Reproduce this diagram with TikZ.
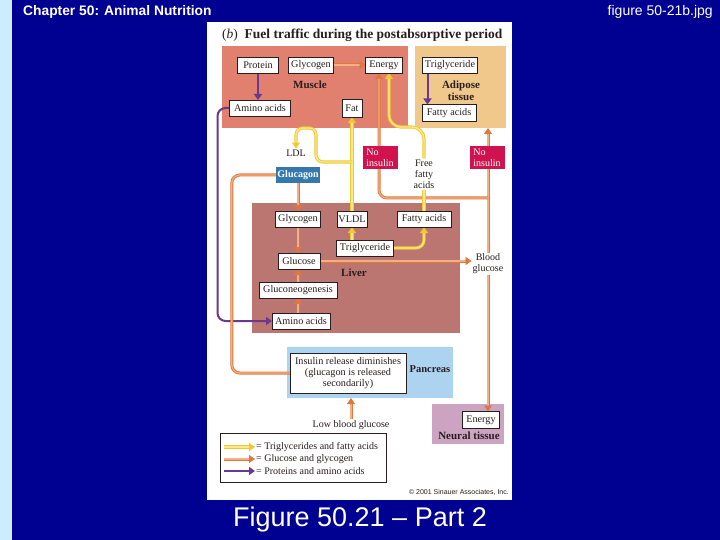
\documentclass[tikz,border=0pt]{standalone}
\usepackage{fontspec}
\setmainfont{Liberation Serif}
\newfontfamily\slidesans{Liberation Sans}
\usepackage{xcolor}
\usepackage{tikz}
\usetikzlibrary{arrows.meta, positioning, calc, backgrounds}
\definecolor{SlideBlue}{RGB}{0, 0, 145}
\definecolor{SlideStrip}{RGB}{204, 236, 255}
\definecolor{FigMuscle}{RGB}{226, 128, 112}
\definecolor{FigAdipose}{RGB}{240, 200, 140}
\definecolor{FigLiver}{RGB}{188, 118, 114}
\definecolor{FigPancreas}{RGB}{172, 212, 240}
\definecolor{FigNeural}{RGB}{204, 164, 194}
\definecolor{FigNoIns}{RGB}{208, 18, 78}
\definecolor{FigGlucagon}{RGB}{52, 120, 172}
\definecolor{FigYellow}{RGB}{240, 200, 48}
\definecolor{FigYellowPale}{RGB}{250, 232, 140}
\definecolor{FigOrange}{RGB}{222, 120, 62}
\definecolor{FigOrangePale}{RGB}{244, 176, 128}
\definecolor{FigPurple}{RGB}{106, 56, 140}
\definecolor{FigText}{RGB}{40, 30, 30}

\pgfdeclarelayer{flow}
\pgfsetlayers{background,flow,main}

\tikzset{
  organ/.style={inner sep=0pt, outer sep=0pt},
  cell/.style={draw=FigText, fill=white, line width=0.5pt, inner sep=1pt, outer sep=0pt,
               minimum height=16pt, text=FigText, font=\fontsize{10.2}{11}\selectfont},
  organlbl/.style={text=FigText, font=\fontsize{11}{12.5}\selectfont\bfseries, align=center, inner sep=0pt},
  flowlbl/.style={text=FigText, font=\fontsize{10}{11}\selectfont, align=center, inner sep=1pt},
  noinsulin/.style={fill=FigNoIns, text=white, font=\fontsize{10}{11}\selectfont, align=left,
                    minimum width=35pt, minimum height=23pt, inner sep=1pt},
  flowtip/.style={-{Triangle[length=6pt, width=8pt]}},
  fatline/.style={draw=FigYellow, double=FigYellowPale, double distance=1.4pt, line width=0.9pt,
                  rounded corners=8pt},
  glcline/.style={draw=FigOrange, double=FigOrangePale, double distance=1.2pt, line width=0.9pt,
                  rounded corners=8pt},
  fatflow/.style={fatline, flowtip},
  glcflow/.style={glcline, flowtip},
  protflow/.style={draw=FigPurple, line width=2pt, rounded corners=8pt, flowtip},
  slidetext/.style={text=white, inner sep=0pt}
}

\begin{document}
\begin{tikzpicture}[x=1pt, y=-1pt]
  \useasboundingbox (0,0) rectangle (720,540);

  \begin{pgfonlayer}{background}
    \fill[SlideBlue] (0,0) rectangle (720,540);
    \fill[SlideStrip] (0,0) rectangle (12,540);
    \fill[white] (207,22) rectangle (512,500);
    % tissue regions
    \node[organ, fill=FigMuscle, minimum width=186pt, minimum height=82pt] (muscle) at (315,87) {};
    \node[organ, fill=FigAdipose, minimum width=91pt, minimum height=82pt] (adipose) at (460.5,87) {};
    \node[organ, fill=FigLiver, minimum width=208pt, minimum height=130pt] (liver) at (356,268) {};
    \node[organ, fill=FigPancreas, minimum width=166pt, minimum height=51pt] (pancreas) at (370,372.5) {};
    \node[organ, fill=FigNeural, minimum width=72pt, minimum height=40pt] (neural) at (468,424) {};
    \node[draw=FigText, fill=white, line width=0.6pt, minimum width=166pt, minimum height=49pt] (legend) at (303,458) {};
  \end{pgfonlayer}

  % slide texts
  \node[slidetext, anchor=west, font=\slidesans\fontsize{13.8}{15}\selectfont\bfseries] (chapter) at (23,12) {Chapter 50: Animal Nutrition};
  \node[slidetext, anchor=east, font=\slidesans\fontsize{14}{16}\selectfont] (filename) at (713,12) {figure 50-21b.jpg};
  \node[slidetext, font=\slidesans\fontsize{27}{30}\selectfont] (caption) at (360,520) {Figure 50.21 – Part 2};

  \node[anchor=west, text=FigText, inner sep=0pt, font=\fontsize{13.5}{15}\selectfont\bfseries] (figtitle) at (222,35)
    {{\mdseries(\textit{b})}\enspace Fuel traffic during the postabsorptive period};

  % muscle and adipose tissue
  \node[cell, minimum width=41pt] (protein) at (258,65) {Protein};
  \node[cell, minimum width=45pt] (mglycogen) at (311,65) {Glycogen};
  \node[cell, minimum width=37pt] (menergy) at (384,65) {Energy};
  \node[cell, minimum width=61pt] (mamino) at (260,108) {Amino acids};
  \node[cell, minimum width=20pt, minimum height=18pt] (fat) at (352,108) {Fat};
  \node[organlbl] (musclelbl) at (310,85) {Muscle};
  \node[cell, minimum width=55pt] (atrig) at (450,65) {Triglyceride};
  \node[cell, minimum width=54pt, minimum height=17pt] (afatty) at (449,113) {Fatty acids};
  \node[organlbl] (adiposelbl) at (461,91) {Adipose\\tissue};

  % between the organs
  \node[flowlbl] (ldl) at (296,153) {LDL};
  \node[fill=FigGlucagon, text=white, minimum width=44pt, minimum height=16pt, inner sep=0pt,
        font=\fontsize{10}{11}\selectfont\bfseries] (glucagon) at (298,175) {Glucagon};
  \node[noinsulin] (noins1) at (380,158) {No\\insulin};
  \node[noinsulin] (noins2) at (487,158) {No\\insulin};
  \node[flowlbl] (ffa) at (424,174) {Free\\fatty\\acids};

  % liver
  \node[cell, minimum width=45pt] (lglycogen) at (298,219) {Glycogen};
  \node[cell, minimum width=30pt] (vldl) at (352,219) {VLDL};
  \node[cell, minimum width=54pt] (lfatty) at (424,219) {Fatty acids};
  \node[cell, minimum width=57pt] (ltrig) at (365,248) {Triglyceride};
  \node[cell, minimum width=42pt] (glucose) at (299,261) {Glucose};
  \node[organlbl] (liverlbl) at (354,273) {Liver};
  \node[cell, minimum width=78pt] (gluconeo) at (298,290) {Gluconeogenesis};
  \node[cell, minimum width=58pt] (lamino) at (301,321) {Amino acids};
  \node[flowlbl] (bloodglc) at (488,264) {Blood\\glucose};

  % pancreas and neural tissue
  \node[cell, minimum width=116pt, minimum height=40pt, align=center] (insulin) at (348,373)
    {Insulin release diminishes\\(glucagon is released\\secondarily)};
  \node[organlbl, font=\fontsize{10.5}{12}\selectfont\bfseries] (pancreaslbl) at (430,369) {Pancreas};
  \node[flowlbl] (lowglc) at (351,425) {Low blood glucose};
  \node[cell, minimum width=37pt, minimum height=17pt] (nenergy) at (481,420) {Energy};
  \node[organlbl] (neurallbl) at (469,436) {Neural tissue};

  % legend
  \node[flowlbl, anchor=west] (legfat) at (255,447) {= Triglycerides and fatty acids};
  \node[flowlbl, anchor=west] (legglc) at (255,459) {= Glucose and glycogen};
  \node[flowlbl, anchor=west] (legprot) at (255,471) {= Proteins and amino acids};
  \node[anchor=east, text=FigText, inner sep=0pt, font=\slidesans\fontsize{7}{8}\selectfont] (copyright) at (509,492)
    {\textcopyright\ 2001 Sinauer Associates, Inc.};

  \coordinate (ldlrow) at (0,162);
  \coordinate (ldlarch) at (316,128);
  \coordinate (splitrow) at (0,198);
  \coordinate (ffarow) at (0,127);

  \begin{pgfonlayer}{flow}
    % proteins and amino acids
    \draw[protflow] (protein.south) -- (protein.south |- mamino.north);
    \draw[protflow] ([xshift=5pt]atrig.south west) -- ([xshift=5pt]atrig.south west |- afatty.north);
    \draw[protflow] (mamino.west) -- ++(-12,0) |- (lamino.west);

    % glucose and glycogen
    \draw[glcflow] (mglycogen.east) -- (menergy.west);
    \draw[glcflow] (glucagon.south) -- (lglycogen.north);
    \draw[glcline] (insulin.west) -| ([xshift=-44pt]glucagon.west) -- (glucagon.west);
    \draw[glcflow] (lglycogen.south) -- (lglycogen.south |- glucose.north);
    \draw[glcflow] (gluconeo.north) -- (gluconeo.north |- glucose.south);
    \draw[glcflow] (gluconeo.south |- lamino.north) -- (gluconeo.south);
    \draw[glcflow] (glucose.east) -- (glucose.east -| bloodglc.west);
    \draw[glcflow] (bloodglc.north) -- (bloodglc.north |- adipose.south);
    \coordinate (glcsplit) at (bloodglc.north |- splitrow);
    \draw[glcflow] (glcsplit) -| ([xshift=-5pt]menergy.south);
    \draw[glcflow] (bloodglc.south) -- (bloodglc.south |- nenergy.north);
    \draw[glcflow] (lowglc.north) -- (lowglc.north |- pancreas.south);

    % triglycerides and fatty acids
    \draw[fatflow] (vldl.south |- ltrig.north) -- (vldl.south);
    \draw[fatflow] (ltrig.east) -| (lfatty.south);
    \draw[fatflow] (vldl.north) -- (vldl.north |- fat.south);
    \draw[fatflow, rounded corners=7pt] (vldl.north |- ldlrow) -| (ldlarch) -| (ldl.north);
    \draw[fatline] (lfatty.north) -- (ffa.south);
    \draw[fatflow, rounded corners=12pt] (ffa.north) |- ([xshift=5pt]menergy.south |- ffarow) -- ([xshift=5pt]menergy.south);

    % legend keys
    \draw[fatflow] ([xshift=-31pt]legfat.west) -- (legfat.west);
    \draw[glcflow] ([xshift=-31pt]legglc.west) -- (legglc.west);
    \draw[protflow] ([xshift=-31pt]legprot.west) -- (legprot.west);
  \end{pgfonlayer}
\end{tikzpicture}
\end{document}
